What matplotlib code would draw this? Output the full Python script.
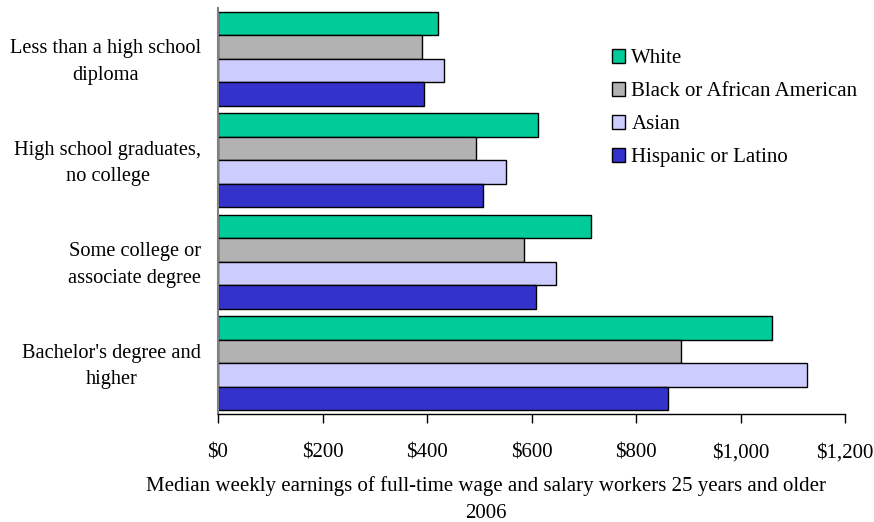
import matplotlib
matplotlib.use("Agg")
import matplotlib.pyplot as plt
import matplotlib.transforms as mtrans
import numpy as np
from matplotlib.patches import Patch

categories = ["Less than a high school\ndiploma",
              "High school graduates,\nno college",
              "Some college or\nassociate degree",
              "Bachelor's degree and\nhigher"]
series = ["White", "Black or African American", "Asian", "Hispanic or Latino"]
white = [422, 613, 714, 1060]
black = [391, 494, 586, 887]
asian = [433, 552, 646, 1128]
hispanic = [395, 508, 609, 862]
colors = ["#00CC99", "#B2B2B2", "#CCCCFF", "#3333CC"]
xticks = [0, 200, 400, 600, 800, 1000, 1200]
xticklabels = ["$0", "$200", "$400", "$600", "$800", "$1,000", "$1,200"]

plt.rcParams['font.family'] = ['Liberation Serif', 'DejaVu Serif']
plt.rcParams['font.size'] = 15

fig = plt.figure(figsize=(8.74, 5.22), dpi=100)
ax = fig.add_axes([218/874, 1 - 414/522, (845-218)/874, (414-8)/522])

data = [white, black, asian, hispanic]
n = len(series)
bh = 0.2325
y = np.arange(len(categories))
for i, (vals, c) in enumerate(zip(data, colors)):
    offs = (i - (n - 1) / 2) * bh
    ax.barh(y + offs, vals, height=bh, color=c, edgecolor="black", linewidth=1.0)

ax.set_ylim(3.5, -0.5)
ax.set_xlim(0, 1200)
ax.set_yticks(y)
ax.set_yticklabels(categories, multialignment="center", linespacing=1.55, fontsize=14.7)
ax.tick_params(axis="y", length=0, pad=12)
shift = mtrans.ScaledTranslation(0, 3/100, fig.dpi_scale_trans)
for lbl in ax.get_yticklabels():
    lbl.set_transform(lbl.get_transform() + shift)
ax.set_xticks(xticks)
ax.set_xticklabels(xticklabels)
ax.tick_params(axis="x", direction="out", length=6.5, width=1, color="black", pad=15)

for s in ["top", "right"]:
    ax.spines[s].set_visible(False)
ax.spines["left"].set_color("#808080")
ax.spines["left"].set_linewidth(1.5)
ax.spines["bottom"].set_color("black")
ax.spines["bottom"].set_linewidth(1)

ax.set_xlabel("Median weekly earnings of full-time wage and salary workers 25 years and older\n2006",
              linespacing=1.6)
ax.xaxis.set_label_coords((486-218)/627, -0.153)
ax.xaxis.label.set_verticalalignment("top")

handles = [Patch(facecolor=c, edgecolor="black", linewidth=1) for c in colors]
ax.legend(handles, series, loc="upper left", bbox_to_anchor=(595/874, 1 - 32/522),
          bbox_transform=fig.transFigure, frameon=False, handlelength=0.65, handleheight=0.65,
          handletextpad=0.3, labelspacing=0.66, fontsize=15, borderpad=0.3)

fig.savefig("out.png", dpi=100)
